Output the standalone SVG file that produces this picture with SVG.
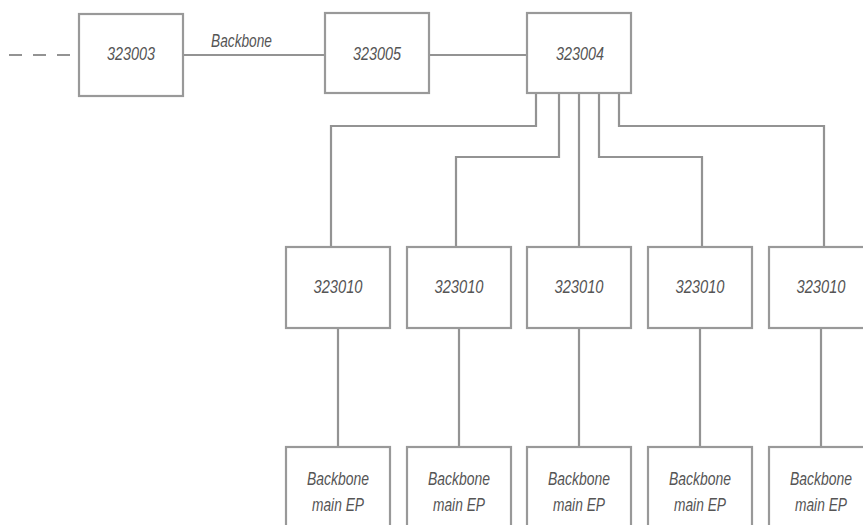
<svg xmlns="http://www.w3.org/2000/svg" width="863" height="525" viewBox="0 0 863 525">
<style>
.box{fill:#fff;stroke:#999;stroke-width:2.2}
.ln{fill:none;stroke:#939393;stroke-width:2.2}
.t{font-family:"Liberation Sans",Arial,sans-serif;font-style:italic;font-size:17.5px;fill:#555;text-anchor:middle}
</style>
<rect width="863" height="525" fill="#fff"/>
<g id="connectors">
<path class="ln" d="M9,55H79" stroke-dasharray="13 11"/>
<path class="ln" d="M183,55H325"/>
<path class="ln" d="M429,55H527"/>
<path class="ln" d="M536,93V126H331V247"/>
<path class="ln" d="M559,93V157H456V247"/>
<path class="ln" d="M579,93V247"/>
<path class="ln" d="M599,93V157H702V247"/>
<path class="ln" d="M619,93V126H824V247"/>
<path class="ln" d="M338,328V447"/>
<path class="ln" d="M459,328V447"/>
<path class="ln" d="M579,328V447"/>
<path class="ln" d="M700,328V447"/>
<path class="ln" d="M821,328V447"/>
<text class="t" x="241.5" y="47" textLength="61" lengthAdjust="spacingAndGlyphs">Backbone</text>
</g>
<g id="n323003"><rect class="box" x="79" y="14" width="104" height="82"/><text class="t" x="131" y="60" textLength="48" lengthAdjust="spacingAndGlyphs">323003</text></g>
<g id="n323005"><rect class="box" x="325" y="13" width="104" height="80"/><text class="t" x="377" y="60" textLength="48" lengthAdjust="spacingAndGlyphs">323005</text></g>
<g id="n323004"><rect class="box" x="527" y="13" width="104" height="80"/><text class="t" x="580" y="60" textLength="48" lengthAdjust="spacingAndGlyphs">323004</text></g>
<g id="n323010a"><rect class="box" x="286" y="247" width="104" height="81"/><text class="t" x="338" y="293" textLength="49" lengthAdjust="spacingAndGlyphs">323010</text></g>
<g id="n323010b"><rect class="box" x="407" y="247" width="104" height="81"/><text class="t" x="459" y="293" textLength="49" lengthAdjust="spacingAndGlyphs">323010</text></g>
<g id="n323010c"><rect class="box" x="527" y="247" width="104" height="81"/><text class="t" x="579" y="293" textLength="49" lengthAdjust="spacingAndGlyphs">323010</text></g>
<g id="n323010d"><rect class="box" x="648" y="247" width="104" height="81"/><text class="t" x="700" y="293" textLength="49" lengthAdjust="spacingAndGlyphs">323010</text></g>
<g id="n323010e"><rect class="box" x="769" y="247" width="104" height="81"/><text class="t" x="821" y="293" textLength="49" lengthAdjust="spacingAndGlyphs">323010</text></g>
<g id="ep1"><rect class="box" x="286" y="447" width="104" height="100"/><text class="t" x="338" y="485" textLength="62" lengthAdjust="spacingAndGlyphs">Backbone</text><text class="t" x="338" y="511" textLength="52" lengthAdjust="spacingAndGlyphs">main EP</text></g>
<g id="ep2"><rect class="box" x="407" y="447" width="104" height="100"/><text class="t" x="459" y="485" textLength="62" lengthAdjust="spacingAndGlyphs">Backbone</text><text class="t" x="459" y="511" textLength="52" lengthAdjust="spacingAndGlyphs">main EP</text></g>
<g id="ep3"><rect class="box" x="527" y="447" width="104" height="100"/><text class="t" x="579" y="485" textLength="62" lengthAdjust="spacingAndGlyphs">Backbone</text><text class="t" x="579" y="511" textLength="52" lengthAdjust="spacingAndGlyphs">main EP</text></g>
<g id="ep4"><rect class="box" x="648" y="447" width="104" height="100"/><text class="t" x="700" y="485" textLength="62" lengthAdjust="spacingAndGlyphs">Backbone</text><text class="t" x="700" y="511" textLength="52" lengthAdjust="spacingAndGlyphs">main EP</text></g>
<g id="ep5"><rect class="box" x="769" y="447" width="104" height="100"/><text class="t" x="821" y="485" textLength="62" lengthAdjust="spacingAndGlyphs">Backbone</text><text class="t" x="821" y="511" textLength="52" lengthAdjust="spacingAndGlyphs">main EP</text></g>
</svg>
